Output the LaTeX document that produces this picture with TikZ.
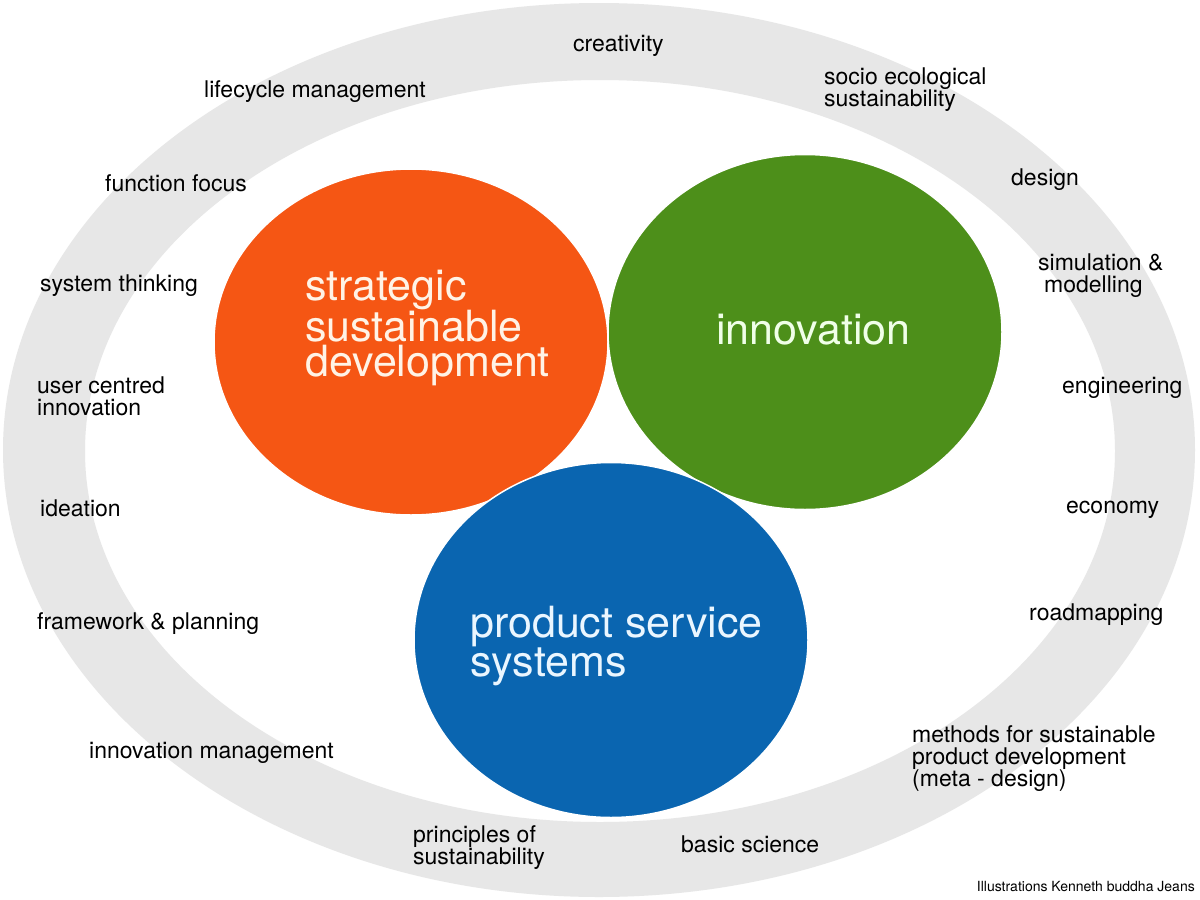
\documentclass[tikz,border=0pt]{standalone}
\usepackage{fontspec}
\setmainfont{TeX Gyre Heros}
\usetikzlibrary{shapes.geometric}
\definecolor{ringgrey}{RGB}{231,231,231}
\definecolor{sorange}{RGB}{245,86,20}
\definecolor{igreen}{RGB}{77,143,26}
\definecolor{pblue}{RGB}{10,101,176}
\definecolor{otext}{RGB}{255,243,230}
\definecolor{gtext}{RGB}{240,255,232}
\definecolor{btext}{RGB}{234,246,255}
\tikzset{
  bigcirc/.style={ellipse, inner sep=0pt, minimum width=394pt, draw=white, line width=1.5pt},
  biglabel/.style={anchor=west, inner sep=0pt, align=left, font=\fontsize{43}{35}\selectfont},
  lbl/.style={anchor=west, inner sep=0pt, align=left, text=black, font=\fontsize{23}{22}\selectfont},
  credit/.style={anchor=east, inner sep=0pt, text=black, font=\fontsize{14}{14}\selectfont}
}
\begin{document}
\begin{tikzpicture}[x=1pt,y=-1pt]
\useasboundingbox (0,0) rectangle (1200,900);
\fill[white] (0,0) rectangle (1200,900);
% grey ring
\fill[ringgrey, even odd rule] (599,450) ellipse [x radius=596, y radius=447]
      (600,451) ellipse [x radius=515, y radius=371];
% circles
\node[bigcirc, fill=sorange, minimum height=346pt] (ssd) at (411,342) {};
\node[bigcirc, fill=igreen, minimum height=355pt] (inn) at (805,332) {};
\node[bigcirc, fill=pblue, minimum height=355pt] (pss) at (611,640) {};
% circle labels
\node[biglabel, text=otext] (ssdt) at (305,328) {strategic\\sustainable\\development};
\node[biglabel, text=gtext] (innt) at (716,330) {innovation};
\node[biglabel, text=btext] (psst) at (470,646) {product service\\systems};
% ring labels
\node[lbl] (l1) at (573,46) {creativity};
\node[lbl] (l2) at (204,92) {lifecycle management};
\node[lbl] (l3) at (824,90) {socio ecological\\sustainability};
\node[lbl] (l4) at (105,183) {function focus};
\node[lbl] (l5) at (1011,180) {design};
\node[lbl] (l6) at (40,286) {system thinking};
\node[lbl] (l7) at (1038,276) {simulation \&\\\hspace*{6pt}modelling};
\node[lbl] (l8) at (37,396) {user centred\\innovation};
\node[lbl] (l9) at (1062,388) {engineering};
\node[lbl] (l10) at (40,508) {ideation};
\node[lbl] (l11) at (1066,510) {economy};
\node[lbl] (l12) at (37,624) {framework \& planning};
\node[lbl] (l13) at (1029,615) {roadmapping};
\node[lbl] (l14) at (89,753) {innovation management};
\node[lbl] (l15) at (912,759) {methods for sustainable\\product development\\(meta - design)};
\node[lbl] (l16) at (413,848) {principles of\\sustainability};
\node[lbl] (l17) at (681,844) {basic science};
\node[credit] (cr) at (1195,887) {Illustrations Kenneth buddha Jeans};
\end{tikzpicture}
\end{document}
